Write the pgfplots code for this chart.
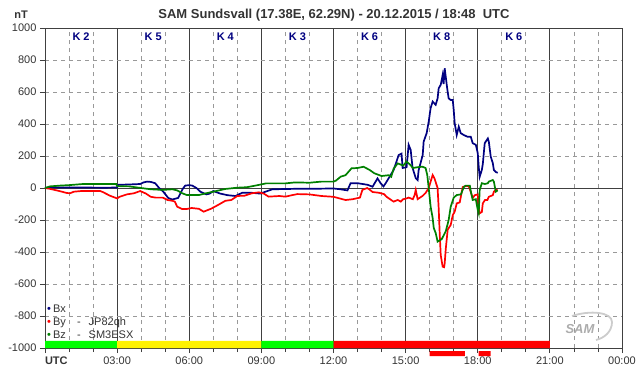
\documentclass[border=0pt]{standalone}
\usepackage{pgfplots}
\pgfplotsset{compat=1.18}
\usepackage{fontspec}
\setmainfont{Liberation Sans}
\definecolor{bxc}{HTML}{000080}
\definecolor{byc}{HTML}{FF0000}
\definecolor{bzc}{HTML}{008000}
\definecolor{txt}{HTML}{333333}
\definecolor{gridc}{HTML}{999999}
\definecolor{axc}{HTML}{404040}
\definecolor{kc}{HTML}{000080}
\begin{document}
\begin{tikzpicture}
\useasboundingbox (0pt,0pt) rectangle (642pt,376pt);
\node[font=\bfseries\fontsize{13}{15}\selectfont, text=txt] at (334pt,361pt) {SAM Sundsvall (17.38E, 62.29N) - 20.12.2015 / 18:48\ \ UTC};
\node[font=\bfseries\fontsize{11}{13}\selectfont, text=txt] at (21pt,361pt) {nT};
\begin{axis}[
  at={(45pt,28pt)}, anchor=south west,
  scale only axis, width=577pt, height=320pt,
  xmin=0, xmax=24, ymin=-1000, ymax=1000,
  clip=false,
  axis line style={axc, line width=0.8pt},
  xtick={0,3,...,24},
  xticklabels={\makebox[0pt][l]{\textbf{UTC}},03:00,06:00,09:00,12:00,15:00,18:00,21:00,00:00},
  minor xtick={1,2,4,5,7,8,10,11,13,14,16,17,19,20,22,23},
  ytick={-1000,-800,-600,-400,-200,0,200,400,600,800,1000},
  yticklabels={-1000,-800,-600,-400,-200,0,200,400,600,800,1000},
  tick pos=left, tick align=outside,
  major tick length=5pt, minor tick length=4pt,
  tick style={axc, line width=0.8pt},
  ticklabel style={font=\fontsize{11}{13}\selectfont, text=txt},
  xmajorgrids, xminorgrids, ymajorgrids,
  major x grid style={axc, line width=0.8pt, solid},
  minor x grid style={gridc, line width=0.8pt, dash pattern=on 4pt off 4pt},
  major y grid style={gridc, line width=0.8pt, dash pattern=on 4pt off 4pt},
]
% status band
\addplot[fill=green, draw=none] coordinates {(0,-1000)(3,-1000)(3,-956)(0,-956)(0,-1000)};
\addplot[fill=yellow, draw=none] coordinates {(3,-1000)(9,-1000)(9,-956)(3,-956)(3,-1000)};
\addplot[fill=green, draw=none] coordinates {(9,-1000)(12,-1000)(12,-956)(9,-956)(9,-1000)};
\addplot[fill=red, draw=none] coordinates {(12,-1000)(21,-1000)(21,-956)(12,-956)(12,-1000)};
\addplot[fill=red, draw=none] coordinates {(16,-1019)(17.46,-1019)(17.46,-1050)(16,-1050)(16,-1019)};
\addplot[fill=red, draw=none] coordinates {(18.04,-1019)(18.54,-1019)(18.54,-1050)(18.04,-1050)(18.04,-1019)};
% zero line
\addplot[axc, line width=0.8pt] coordinates {(0,0)(24,0)};
% Bx
\addplot[bxc, line width=1.7pt] coordinates {
(0,0)(0.3,5)(0.625,3)(1.5,3)(2.5,2)(3,3)(3.05,20)(3.5,22)(3.96,25)(4.1,35)(4.25,40)(4.4,38)(4.58,30)(4.75,0)(4.92,-23)(5.125,-62)(5.29,-72)(5.54,-62)(5.71,-10)(5.83,15)(6.0,18)(6.125,15)(6.3,0)(6.46,-23)(6.71,-40)(6.85,-35)(7.0,-19)(7.29,-35)(7.6,-45)(7.92,-50)(8.2,-30)(8.6,-30)(8.96,-35)(9.17,-23)(9.46,-8)(10.42,-5)(11.04,-5)(12.0,-3)(12.29,-8)(12.58,-15)(12.71,30)(13.0,30)(13.21,25)(13.42,20)(13.625,8)(13.83,60)(13.96,30)(14.08,10)(14.17,30)(14.29,60)(14.5,112)(14.71,206)(14.83,215)(14.875,125)(15.04,130)(15.125,270)(15.21,238)(15.29,125)(15.42,62)(15.5,50)(15.54,110)(15.71,206)(15.75,290)(15.875,343)(15.96,415)(16.04,500)(16.125,540)(16.25,520)(16.33,560)(16.375,623)(16.46,645)(16.54,706)(16.58,650)(16.625,748)(16.71,645)(16.75,600)(16.79,560)(16.875,550)(16.96,550)(17.0,488)(17.04,406)(17.125,331)(17.21,383)(17.29,343)(17.42,331)(17.58,320)(17.71,320)(17.79,280)(17.92,270)(18.0,218)(18.04,133)(18.08,70)(18.17,113)(18.21,150)(18.29,280)(18.42,310)(18.46,290)(18.54,196)(18.625,156)(18.67,113)(18.75,100)(18.83,95)
};
% By
\addplot[byc, line width=1.7pt] coordinates {
(0,0)(0.2,-5)(0.6,-19)(0.9,-31)(1.04,-33)(1.2,-23)(1.5,-19)(2.3,-19)(2.4,-25)(2.7,-48)(3.0,-65)(3.1,-55)(3.4,-40)(3.7,-33)(3.96,-19)(4.2,-35)(4.4,-55)(4.6,-60)(4.9,-60)(5.1,-75)(5.3,-80)(5.4,-85)(5.5,-117)(5.7,-131)(5.9,-131)(6.1,-125)(6.4,-130)(6.6,-148)(6.9,-130)(7.2,-106)(7.5,-80)(7.75,-75)(8.0,-50)(8.3,-48)(8.6,-33)(8.9,-27)(9.1,-35)(9.3,-54)(9.75,-50)(10.0,-54)(10.3,-44)(10.5,-38)(11.0,-40)(11.5,-50)(12.0,-55)(12.25,-65)(12.5,-75)(12.8,-70)(13.1,-60)(13.2,-12)(13.4,0)(13.5,-10)(13.625,-25)(13.9,-30)(14.1,-38)(14.2,-54)(14.4,-75)(14.5,-85)(14.67,-75)(14.8,-85)(14.9,-70)(15.04,-65)(15.125,-60)(15.3,-70)(15.375,-44)(15.42,-12)(15.5,-70)(15.6,-60)(15.7,-50)(15.83,-31)(15.96,0)(16.04,40)(16.125,81)(16.2,60)(16.33,0)(16.375,-127)(16.42,-294)(16.46,-419)(16.54,-492)(16.6,-495)(16.625,-470)(16.67,-380)(16.75,-260)(16.875,-231)(16.96,-170)(17.04,-148)(17.125,-96)(17.25,-90)(17.375,6)(17.5,12)(17.625,12)(17.71,-25)(17.79,-62)(17.875,-45)(18.0,-40)(18.04,-117)(18.08,-158)(18.17,-150)(18.21,-96)(18.3,-75)(18.4,-75)(18.46,-55)(18.625,-45)(18.67,-23)(18.75,-12)(18.83,-12)
};
% Bz
\addplot[bzc, line width=1.7pt] coordinates {
(0,0)(0.2,10)(0.625,15)(1.0,18)(1.58,25)(2.96,25)(3.0,12)(3.5,10)(4.0,0)(4.4,-8)(4.9,-12)(5.3,-8)(5.5,-15)(5.71,-33)(5.9,-44)(6.4,-44)(6.7,-33)(7.0,-23)(7.5,-6)(8.0,2)(8.4,5)(8.75,15)(9.2,29)(10.0,29)(10.4,35)(11.0,33)(11.5,40)(12.0,40)(12.1,46)(12.3,71)(12.5,80)(12.75,123)(13.0,125)(13.25,133)(13.5,113)(13.7,92)(14.0,75)(14.3,80)(14.4,70)(14.5,120)(14.67,154)(14.9,140)(15.04,165)(15.2,144)(15.3,125)(15.5,130)(15.7,133)(15.83,125)(15.9,81)(15.96,0)(16.04,-117)(16.125,-188)(16.17,-250)(16.25,-281)(16.33,-335)(16.5,-320)(16.67,-270)(16.79,-200)(16.875,-117)(17.0,-60)(17.125,-44)(17.3,-40)(17.42,6)(17.5,15)(17.67,15)(17.71,-20)(17.79,-75)(17.92,-70)(18.0,-137)(18.04,-158)(18.08,-12)(18.17,30)(18.3,25)(18.42,30)(18.46,40)(18.625,50)(18.67,40)(18.75,-23)(18.83,-15)
};
% K indices
\node[font=\bfseries\fontsize{11}{13}\selectfont, text=kc] at (axis cs:1.5,944) {K 2};
\node[font=\bfseries\fontsize{11}{13}\selectfont, text=kc] at (axis cs:4.5,944) {K 5};
\node[font=\bfseries\fontsize{11}{13}\selectfont, text=kc] at (axis cs:7.5,944) {K 4};
\node[font=\bfseries\fontsize{11}{13}\selectfont, text=kc] at (axis cs:10.5,944) {K 3};
\node[font=\bfseries\fontsize{11}{13}\selectfont, text=kc] at (axis cs:13.5,944) {K 6};
\node[font=\bfseries\fontsize{11}{13}\selectfont, text=kc] at (axis cs:16.5,944) {K 8};
\node[font=\bfseries\fontsize{11}{13}\selectfont, text=kc] at (axis cs:19.5,944) {K 6};
\end{axis}
% legend
\begin{scope}[every node/.style={anchor=west, inner sep=0pt, font=\fontsize{11}{12}\selectfont, text=txt}]
\node at (47pt,67pt) {\textcolor{bxc}{\fontsize{11}{11}\selectfont•}\hspace{2pt}Bx};
\node at (47pt,53pt) {\textcolor{byc}{\fontsize{11}{11}\selectfont•}\hspace{2pt}\makebox[24pt][l]{By}-\hspace{8pt}JP82qh};
\node at (47pt,41pt) {\textcolor{bzc}{\fontsize{11}{11}\selectfont•}\hspace{2pt}\makebox[24pt][l]{Bz}-\hspace{8pt}SM3ESX};
\end{scope}
% SAM logo
\draw[gray!40, line width=1.8pt] (572pt,60pt) .. controls (590pt,66pt) and (612pt,64pt) .. (612pt,54pt) .. controls (612pt,44pt) and (604pt,38pt) .. (596pt,36pt);
\node[font=\bfseries\itshape\fontsize{13}{13}\selectfont, text=gray!65] at (580pt,47pt) {SAM};
\end{tikzpicture}
\end{document}
